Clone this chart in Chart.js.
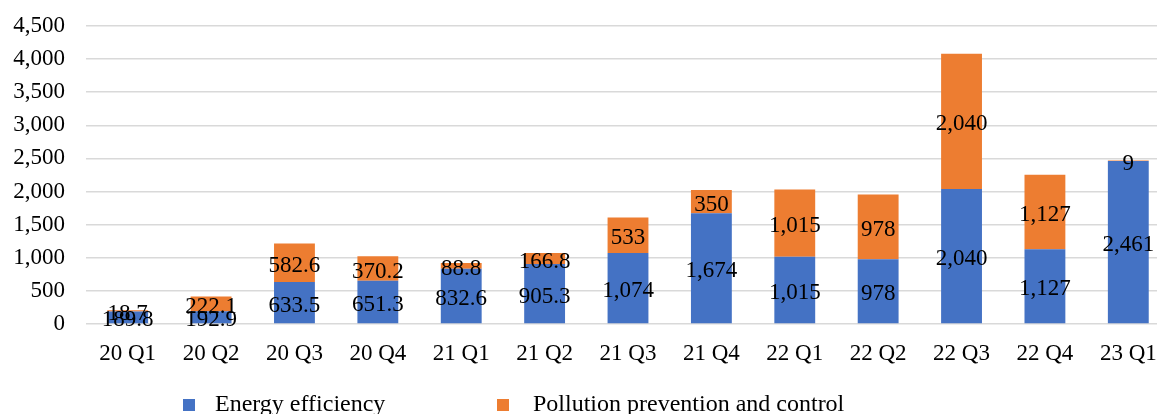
<!DOCTYPE html>
<html>
<head>
<meta charset="utf-8">
<script src="https://cdn.jsdelivr.net/npm/chart.js@4/dist/chart.umd.min.js"></script>
<style>
  html, body { margin: 0; padding: 0; background: #fff; overflow: hidden; }
  #wrap { position: relative; width: 1170px; height: 414px; }
</style>
</head>
<body>
<div id="wrap"><canvas id="c"></canvas></div>
<script>
// Quarterly issuance by use of proceeds
const quarters = ['20 Q1', '20 Q2', '20 Q3', '20 Q4', '21 Q1', '21 Q2', '21 Q3', '21 Q4', '22 Q1', '22 Q2', '22 Q3', '22 Q4', '23 Q1'];
const energyEfficiency = [189.8, 192.9, 633.5, 651.3, 832.6, 905.3, 1074, 1674, 1015, 978, 2040, 1127, 2461];
const pollutionControl = [18.7, 222.1, 582.6, 370.2, 88.8, 166.8, 533, 350, 1015, 978, 2040, 1127, 9];
const seriesNames = ['Energy efficiency', 'Pollution prevention and control'];
const yMax = 4500;
const yStep = 500;

const FONT = '"Liberation Serif", "Times New Roman", serif';
const fmt = v => v.toLocaleString('en-US', { maximumFractionDigits: 1 });

// Value labels centred inside every stacked segment
const segmentLabels = {
  id: 'segmentLabels',
  afterDatasetsDraw(chart) {
    const ctx = chart.ctx;
    ctx.save();
    ctx.font = '23px ' + FONT;
    ctx.fillStyle = '#000';
    ctx.textAlign = 'center';
    ctx.textBaseline = 'middle';
    chart.data.datasets.forEach((ds, di) => {
      const meta = chart.getDatasetMeta(di);
      meta.data.forEach((bar, i) => {
        const p = bar.getProps(['x', 'y', 'base'], true);
        ctx.fillText(fmt(ds.data[i]), p.x, (p.y + p.base) / 2 + 3);
      });
    });
    ctx.restore();
  }
};

// Legend row under the category axis
const bottomLegend = {
  id: 'bottomLegend',
  afterDraw(chart) {
    const ctx = chart.ctx;
    const area = chart.chartArea;
    const y = area.bottom + 81;
    const boxX = [area.left + 97, area.left + 411];
    const textX = [area.left + 129, area.left + 447];
    ctx.save();
    ctx.font = '24px ' + FONT;
    ctx.textBaseline = 'middle';
    ctx.textAlign = 'left';
    chart.data.datasets.forEach((ds, di) => {
      ctx.fillStyle = ds.backgroundColor;
      ctx.fillRect(boxX[di], y - 6, 12, 12);
      ctx.fillStyle = '#000';
      ctx.fillText(ds.label, textX[di], y);
    });
    ctx.restore();
  }
};

new Chart(document.getElementById('c'), {
  type: 'bar',
  data: {
    labels: quarters,
    datasets: [
      { label: seriesNames[0], data: energyEfficiency, backgroundColor: '#4472C4' },
      { label: seriesNames[1], data: pollutionControl, backgroundColor: '#ED7D31' }
    ]
  },
  options: {
    responsive: true,
    maintainAspectRatio: false,
    animation: false,
    layout: { padding: { left: 12, right: 0, top: 26, bottom: 48 } },
    datasets: { bar: { categoryPercentage: 1, barPercentage: 0.49, borderWidth: 0 } },
    plugins: {
      legend: { display: false },
      tooltip: { enabled: false }
    },
    scales: {
      x: {
        stacked: true,
        grid: { display: false, drawTicks: false },
        border: { display: false },
        ticks: { color: '#000', font: { family: FONT, size: 23 }, padding: 16, maxRotation: 0, autoSkip: false },
        afterFit: s => { s.height = 42; s.paddingLeft = 0; s.paddingRight = 0; }
      },
      y: {
        stacked: true,
        min: 0,
        max: yMax,
        grid: { color: '#d9d9d9', lineWidth: 1.5, drawTicks: false },
        border: { display: false },
        ticks: {
          stepSize: yStep,
          color: '#000',
          padding: 21,
          font: { family: FONT, size: 23 },
          callback: v => v.toLocaleString('en-US')
        },
        afterFit: s => { s.width = 74; s.paddingTop = 0; s.paddingBottom = 0; }
      }
    }
  },
  plugins: [segmentLabels, bottomLegend]
});
</script>
</body>
</html>
